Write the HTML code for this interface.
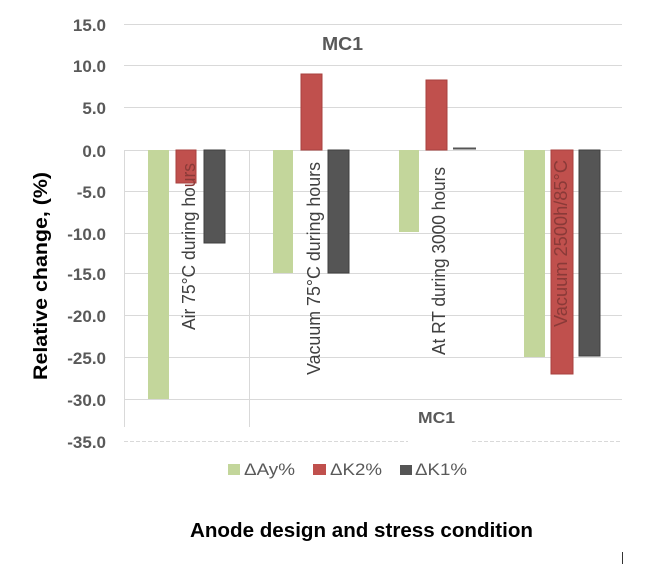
<!DOCTYPE html>
<html>
<head>
<meta charset="utf-8">
<style>
html,body{margin:0;padding:0;background:#fff;}
body{width:650px;height:564px;overflow:hidden;}
svg{display:block;}
text{font-family:"Liberation Sans",Arial,sans-serif;}
</style>
</head>
<body>
<svg width="650" height="564" viewBox="0 0 650 564" xmlns="http://www.w3.org/2000/svg">
  <rect width="650" height="564" fill="#fff"/>
  <!-- gridlines -->
  <g stroke="#d9d9d9" stroke-width="1">
    <line x1="124" y1="24.5" x2="622" y2="24.5"/>
    <line x1="124" y1="65.5" x2="622" y2="65.5"/>
    <line x1="124" y1="107.5" x2="622" y2="107.5"/>
    <line x1="124" y1="150.5" x2="622" y2="150.5"/>
    <line x1="124" y1="191.5" x2="622" y2="191.5"/>
    <line x1="124" y1="233.5" x2="622" y2="233.5"/>
    <line x1="124" y1="273.5" x2="622" y2="273.5"/>
    <line x1="124" y1="315.5" x2="622" y2="315.5"/>
    <line x1="124" y1="357.5" x2="622" y2="357.5"/>
    <line x1="124" y1="399.5" x2="622" y2="399.5"/>
    <line x1="124.5" y1="150" x2="124.5" y2="427"/>
    <line x1="249.5" y1="150" x2="249.5" y2="427"/>
  </g>
  <g stroke="#d9d9d9" stroke-width="1" stroke-dasharray="4,2">
    <line x1="124" y1="441.5" x2="408" y2="441.5"/>
    <line x1="472" y1="441.5" x2="622" y2="441.5"/>
  </g>

  <!-- y tick labels -->
  <g font-size="17" font-weight="bold" fill="#595959" text-anchor="end">
    <text x="106" y="31">15.0</text>
    <text x="106" y="72">10.0</text>
    <text x="106" y="114">5.0</text>
    <text x="106" y="157">0.0</text>
    <text x="106" y="198">-5.0</text>
    <text x="106" y="240">-10.0</text>
    <text x="106" y="280">-15.0</text>
    <text x="106" y="322">-20.0</text>
    <text x="106" y="364">-25.0</text>
    <text x="106" y="406">-30.0</text>
    <text x="106" y="448">-35.0</text>
  </g>

  <!-- bars -->
  <g>
    <rect x="148" y="150" width="21" height="249" fill="#c3d69b"/>
    <rect x="176" y="150" width="20" height="33" fill="#c0504d" stroke="#a8413e" stroke-width="1"/>
    <rect x="204" y="150" width="21" height="93" fill="#555555" stroke="#3f3f3f" stroke-width="1"/>
    <rect x="273" y="150" width="20" height="123" fill="#c3d69b"/>
    <rect x="301" y="74" width="21" height="76" fill="#c0504d" stroke="#a8413e" stroke-width="1"/>
    <rect x="328" y="150" width="21" height="123" fill="#555555" stroke="#3f3f3f" stroke-width="1"/>
    <rect x="399" y="150" width="20" height="82" fill="#c3d69b"/>
    <rect x="426" y="80" width="21" height="70" fill="#c0504d" stroke="#a8413e" stroke-width="1"/>
    <rect x="453" y="147.5" width="23" height="2" fill="#555555"/>
    <rect x="524" y="150" width="21" height="207" fill="#c3d69b"/>
    <rect x="551" y="150" width="22" height="224" fill="#c0504d" stroke="#a8413e" stroke-width="1"/>
    <rect x="579" y="150" width="21" height="206" fill="#555555" stroke="#3f3f3f" stroke-width="1"/>
  </g>

  <!-- rotated category labels -->
  <g font-size="18" fill="#404040" text-anchor="end">
    <text transform="translate(195,163) rotate(-90)" textLength="167" lengthAdjust="spacingAndGlyphs">Air 75°C during  ho<tspan fill="#8a3a38">urs</tspan></text>
    <text transform="translate(320,162) rotate(-90)" textLength="213" lengthAdjust="spacingAndGlyphs">Vacuum 75°C during  hours</text>
    <text transform="translate(445,167) rotate(-90)" textLength="188" lengthAdjust="spacingAndGlyphs">At RT during 3000 hours</text>
    <text transform="translate(567,160) rotate(-90)" textLength="167" lengthAdjust="spacingAndGlyphs" fill="#8a3a38">Vacuum 2500h/85°C</text>
  </g>

  <!-- titles -->
  <text x="342.5" y="50" font-size="18" font-weight="bold" fill="#595959" text-anchor="middle" textLength="41" lengthAdjust="spacingAndGlyphs">MC1</text>
  <text x="436.5" y="423" font-size="16" font-weight="bold" fill="#595959" text-anchor="middle" textLength="37" lengthAdjust="spacingAndGlyphs">MC1</text>

  <text transform="translate(47,276) rotate(-90)" font-size="19" font-weight="bold" fill="#000" text-anchor="middle" textLength="208" lengthAdjust="spacingAndGlyphs">Relative change, (%)</text>

  <!-- legend -->
  <rect x="228" y="464" width="12" height="11" fill="#c3d69b"/>
  <text x="244" y="475" font-size="17" fill="#595959" textLength="51" lengthAdjust="spacingAndGlyphs">ΔAy%</text>
  <rect x="313" y="464" width="13" height="11" fill="#c0504d"/>
  <text x="330" y="475" font-size="17" fill="#595959" textLength="52" lengthAdjust="spacingAndGlyphs">ΔK2%</text>
  <rect x="400" y="465" width="12" height="10" fill="#555555"/>
  <text x="415" y="475" font-size="17" fill="#595959" textLength="52" lengthAdjust="spacingAndGlyphs">ΔK1%</text>

  <text x="190" y="537" font-size="20" font-weight="bold" fill="#000" textLength="343" lengthAdjust="spacingAndGlyphs">Anode design and stress condition</text>

  <line x1="622.5" y1="552" x2="622.5" y2="564" stroke="#333" stroke-width="1"/>
</svg>
</body>
</html>
